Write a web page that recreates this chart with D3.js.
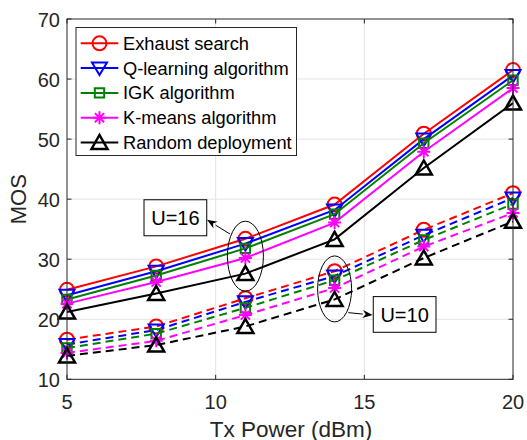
<!DOCTYPE html>
<html>
<head>
<meta charset="utf-8">
<script src="https://cdn.jsdelivr.net/npm/d3@7"></script>
<style>
  html, body { margin: 0; padding: 0; background: #fff; }
  svg { display: block; font-family: "Liberation Sans", Arial, Helvetica, sans-serif; }
</style>
</head>
<body>
<svg id="chart" width="527" height="440"></svg>
<script>
// Transmit power levels (dBm)
const txPower = [5, 8, 11, 14, 17, 20];

// Series names, in legend order
const seriesNames = ["Exhaust search", "Q-learning algorithm", "IGK algorithm", "K-means algorithm", "Random deployment"];

// MOS with U=16 users (solid lines)
const exhaustU16 = [24.9, 28.8, 33.4, 39.1, 50.9, 61.5];
const qlearnU16  = [24.0, 28.0, 32.6, 38.2, 50.0, 60.6];
const igkU16     = [23.3, 27.3, 31.8, 37.5, 49.3, 59.8];
const kmeansU16  = [22.6, 26.2, 30.2, 36.1, 47.9, 58.5];
const randomU16  = [21.2, 24.3, 27.6, 33.3, 45.2, 56.0];

// MOS with U=10 users (dashed lines)
const exhaustU10 = [16.6, 18.8, 23.5, 28.0, 34.9, 41.0];
const qlearnU10  = [15.8, 18.2, 22.9, 27.2, 34.0, 40.2];
const igkU10     = [15.2, 17.6, 21.9, 26.5, 33.2, 39.2];
const kmeansU10  = [14.4, 16.4, 20.7, 25.2, 32.1, 37.7];
const randomU10  = [13.9, 15.7, 18.8, 23.3, 30.2, 36.3];

// Axis ticks
const xTicks = [5, 10, 15, 20];
const yTicks = [10, 20, 30, 40, 50, 60, 70];

const colors  = ["#ff0000", "#0000ff", "#008000", "#ff00ff", "#000000"];
const markers = ["circle", "triDown", "square", "asterisk", "triUp"];

const svg = d3.select("#chart");
const plotLeft = 67, plotRight = 513, plotTop = 19, plotBottom = 379.3;

const x = d3.scaleLinear().domain([5, 20]).range([plotLeft, plotRight]);
const y = d3.scaleLinear().domain([10, 70]).range([plotBottom, plotTop]);

const axisColor = "#262626";

// grid
const grid = svg.append("g");
grid.selectAll(".gx").data(xTicks.slice(1, -1)).join("line")
  .attr("x1", d => x(d)).attr("x2", d => x(d)).attr("y1", plotTop).attr("y2", plotBottom)
  .attr("stroke", "#e3e3e3").attr("stroke-width", 1);
grid.selectAll(".gy").data(yTicks.slice(1, -1)).join("line")
  .attr("y1", d => y(d)).attr("y2", d => y(d)).attr("x1", plotLeft).attr("x2", plotRight)
  .attr("stroke", "#e3e3e3").attr("stroke-width", 1);

// marker shapes
function markerPath(type) {
  switch (type) {
    case "circle": return "M7,0A7,7 0 1,1 -7,0A7,7 0 1,1 7,0Z";
    case "triDown": return "M-7.5,-5.5L7.5,-5.5L0,7Z";
    case "triUp": return "M-8,6.5L8,6.5L0,-7.5Z";
    case "square": return "M-4.7,-4.7L4.7,-4.7L4.7,4.7L-4.7,4.7Z";
    case "asterisk": {
      const r = 6.5, d = r * 0.7071;
      return `M${-r},0L${r},0M0,${-r}L0,${r}M${-d},${-d}L${d},${d}M${-d},${d}L${d},${-d}`;
    }
  }
}

function drawMarker(g, type, color, cx, cy) {
  g.append("path").attr("d", markerPath(type))
    .attr("transform", `translate(${cx},${cy})`)
    .attr("fill", "none").attr("stroke", color)
    .attr("stroke-width", type === "triUp" ? 2.5 : 2)
    .attr("stroke-linejoin", "miter");
}

const line = d3.line().x((d, i) => x(txPower[i])).y(d => y(d));

const u16 = [exhaustU16, qlearnU16, igkU16, kmeansU16, randomU16];
const u10 = [exhaustU10, qlearnU10, igkU10, kmeansU10, randomU10];

const plot = svg.append("g");
function drawSeries(data, k, dashed) {
  const g = plot.append("g");
  g.append("path").attr("d", line(data))
    .attr("fill", "none").attr("stroke", colors[k]).attr("stroke-width", 2)
    .attr("stroke-dasharray", dashed ? "8,5" : null);
  data.forEach((v, i) => drawMarker(g, markers[k], colors[k], x(txPower[i]), y(v)));
}
u16.forEach((d, k) => drawSeries(d, k, false));
u10.forEach((d, k) => drawSeries(d, k, true));

// axes box
svg.append("rect").attr("x", plotLeft).attr("y", plotTop)
  .attr("width", plotRight - plotLeft).attr("height", plotBottom - plotTop)
  .attr("fill", "none").attr("stroke", axisColor).attr("stroke-width", 1);

const tl = 4.5;
const ticks = svg.append("g").attr("stroke", axisColor).attr("stroke-width", 1);
xTicks.forEach(t => {
  ticks.append("line").attr("x1", x(t)).attr("x2", x(t)).attr("y1", plotBottom).attr("y2", plotBottom - tl);
  ticks.append("line").attr("x1", x(t)).attr("x2", x(t)).attr("y1", plotTop).attr("y2", plotTop + tl);
});
yTicks.forEach(t => {
  ticks.append("line").attr("y1", y(t)).attr("y2", y(t)).attr("x1", plotLeft).attr("x2", plotLeft + tl);
  ticks.append("line").attr("y1", y(t)).attr("y2", y(t)).attr("x1", plotRight).attr("x2", plotRight - tl);
});

// tick labels
svg.append("g").selectAll("text").data(xTicks).join("text")
  .attr("x", d => x(d)).attr("y", 409)
  .attr("text-anchor", "middle").attr("font-size", 20).attr("fill", axisColor)
  .text(d => d);
svg.append("g").selectAll("text").data(yTicks).join("text")
  .attr("x", 60).attr("y", d => y(d) + 7.5)
  .attr("text-anchor", "end").attr("font-size", 20).attr("fill", axisColor)
  .text(d => d);

// axis titles
svg.append("text").attr("x", (plotLeft + plotRight) / 2 + 1).attr("y", 436.5)
  .attr("text-anchor", "middle").attr("font-size", 22.5).attr("fill", axisColor)
  .text("Tx Power (dBm)");
svg.append("text").attr("transform", `translate(26,${(plotTop + plotBottom) / 2}) rotate(-90)`)
  .attr("text-anchor", "middle").attr("font-size", 22).attr("fill", axisColor)
  .text("MOS");

// user-count annotations: ellipse around a group of points, arrow, boxed label
const annotations = [
  { label: "U=16", cx: 11, cy: 30.5, rx: 18, ry: 35,
    from: [10.48, 34.2], to: [9.71, 36.55], box: [7.59, 39.9, 9.70, 33.9] },
  { label: "U=10", cx: 14, cy: 25.05, rx: 17, ry: 33,
    from: [14.46, 21.1], to: [15.28, 20.7], box: [15.30, 23.77, 17.41, 17.83] }
];
const ann = svg.append("g");
annotations.forEach(a => {
  ann.append("ellipse").attr("cx", x(a.cx)).attr("cy", y(a.cy))
    .attr("rx", a.rx).attr("ry", a.ry)
    .attr("fill", "none").attr("stroke", "#000").attr("stroke-width", 1);
  const x1 = x(a.from[0]), y1 = y(a.from[1]), x2 = x(a.to[0]), y2 = y(a.to[1]);
  const ang = Math.atan2(y2 - y1, x2 - x1);
  const hl = 10, hw = 4;
  const bx = x2 - hl * Math.cos(ang), by = y2 - hl * Math.sin(ang);
  ann.append("line").attr("x1", x1).attr("y1", y1).attr("x2", bx).attr("y2", by)
    .attr("stroke", "#000").attr("stroke-width", 1);
  const px = -Math.sin(ang), py = Math.cos(ang);
  const nx = x2 - 0.7 * hl * Math.cos(ang), ny = y2 - 0.7 * hl * Math.sin(ang);
  ann.append("path")
    .attr("d", `M${x2},${y2}L${bx + px * hw},${by + py * hw}L${nx},${ny}L${bx - px * hw},${by - py * hw}Z`)
    .attr("fill", "#000");
  const bx0 = x(a.box[0]), by0 = y(a.box[1]), bx1 = x(a.box[2]), by1 = y(a.box[3]);
  ann.append("rect").attr("x", bx0).attr("y", by0)
    .attr("width", bx1 - bx0).attr("height", by1 - by0)
    .attr("fill", "#fff").attr("stroke", "#000").attr("stroke-width", 1);
  ann.append("text").attr("x", (bx0 + bx1) / 2).attr("y", (by0 + by1) / 2 + 7.5)
    .attr("text-anchor", "middle").attr("font-size", 20).attr("fill", "#000")
    .text(a.label);
});

// legend
const lg = svg.append("g");
lg.append("rect").attr("x", 76).attr("y", 27.5).attr("width", 220.5).attr("height", 128)
  .attr("fill", "#fff").attr("stroke", "#262626").attr("stroke-width", 1);
seriesNames.forEach((name, k) => {
  const ly = 43.3 + k * 24.8;
  lg.append("line").attr("x1", 80.7).attr("x2", 118.3).attr("y1", ly).attr("y2", ly)
    .attr("stroke", colors[k]).attr("stroke-width", 2);
  drawMarker(lg, markers[k], colors[k], 99.5, ly);
  lg.append("text").attr("x", 123).attr("y", ly + 6.5)
    .attr("font-size", 18.3).attr("fill", "#000").text(name);
});
</script>
</body>
</html>
